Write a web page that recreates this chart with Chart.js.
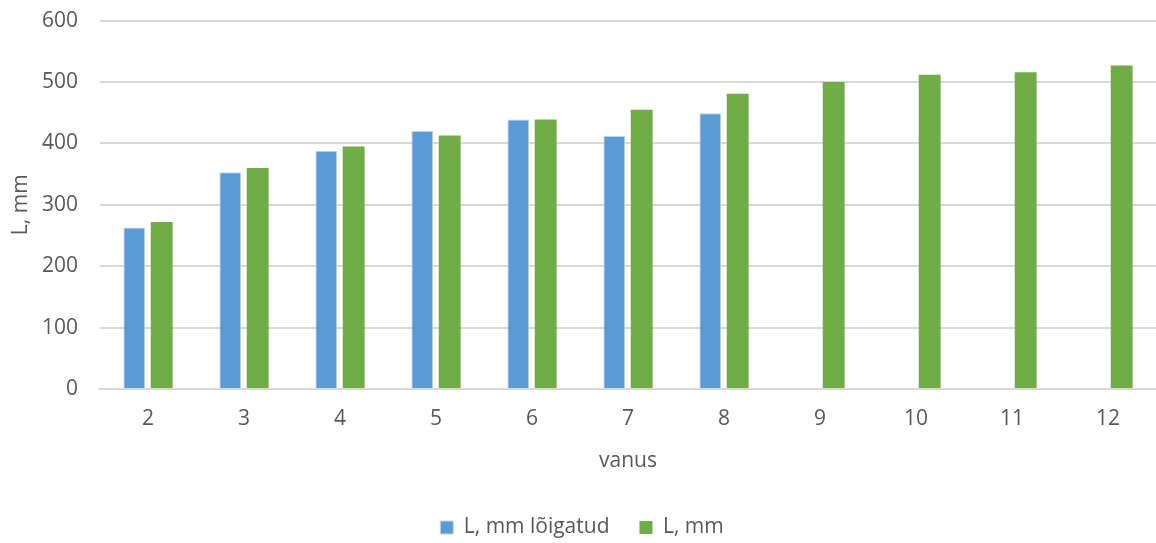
<!DOCTYPE html>
<html>
<head>
<meta charset="utf-8">
<script src="https://cdn.jsdelivr.net/npm/chart.js@4/dist/chart.umd.min.js"></script>
<style>
  html, body { margin: 0; padding: 0; background: #ffffff; }
  #wrap { width: 1156px; height: 543px; position: relative; }
</style>
</head>
<body>
<div id="wrap"><canvas id="c"></canvas></div>
<script>
// Age classes (vanus)
const ages = ['2', '3', '4', '5', '6', '7', '8', '9', '10', '11', '12'];
// Length, cut fish (mm); no data beyond age 8
const lengthCut = [263, 353, 388, 420, 439, 412, 449, null, null, null, null];
// Length (mm)
const lengthAll = [272, 360, 395, 413, 439, 455, 481, 500, 512, 516, 527];
const seriesNames = ['L, mm lõigatud', 'L, mm'];
const yTitle = 'L, mm';
const xTitle = 'vanus';

const textColor = '#595959';
const gridColor = '#D9D9D9';
const fontFamily = '"Open Sans", "Liberation Sans", sans-serif';
const fontSize = 21;

new Chart(document.getElementById('c'), {
  type: 'bar',
  data: {
    labels: ages,
    datasets: [
      {
        label: seriesNames[0],
        data: lengthCut,
        backgroundColor: '#5B9BD5',
        borderColor: '#BDD7EE',
        borderWidth: 1,
        categoryPercentage: 0.57,
        barPercentage: 0.8
      },
      {
        label: seriesNames[1],
        data: lengthAll,
        backgroundColor: '#70AD47',
        borderWidth: 0,
        categoryPercentage: 0.57,
        barPercentage: 0.8
      }
    ]
  },
  options: {
    responsive: true,
    maintainAspectRatio: false,
    animation: false,
    layout: { padding: { top: 0, right: 0, bottom: 0, left: 8 } },
    plugins: {
      tooltip: { enabled: false },
      legend: {
        position: 'bottom',
        maxHeight: 56,
        labels: {
          color: textColor,
          font: { family: fontFamily, size: fontSize },
          boxWidth: 13,
          boxHeight: 13,
          padding: 30
        }
      }
    },
    scales: {
      x: {
        grid: { display: false, drawTicks: false },
        border: { display: true, color: gridColor, width: 2 },
        ticks: { color: textColor, font: { family: fontFamily, size: fontSize }, padding: 17 },
        title: {
          display: true,
          text: xTitle,
          color: textColor,
          font: { family: fontFamily, size: fontSize },
          padding: { top: 0, bottom: 13 }
        },
        afterFit: (s) => { s.height = 98; }
      },
      y: {
        min: 0,
        max: 600,
        ticks: {
          stepSize: 100,
          color: textColor,
          font: { family: fontFamily, size: fontSize },
          padding: 8
        },
        grid: {
          color: gridColor,
          lineWidth: 2,
          drawTicks: true,
          tickLength: 14,
          tickColor: 'rgba(0,0,0,0)'
        },
        border: { display: false },
        title: {
          display: true,
          text: yTitle,
          color: textColor,
          font: { family: fontFamily, size: fontSize },
          padding: { top: 0, bottom: 6 }
        },
        afterFit: (s) => { s.width = 92; }
      }
    }
  }
});
</script>
</body>
</html>
